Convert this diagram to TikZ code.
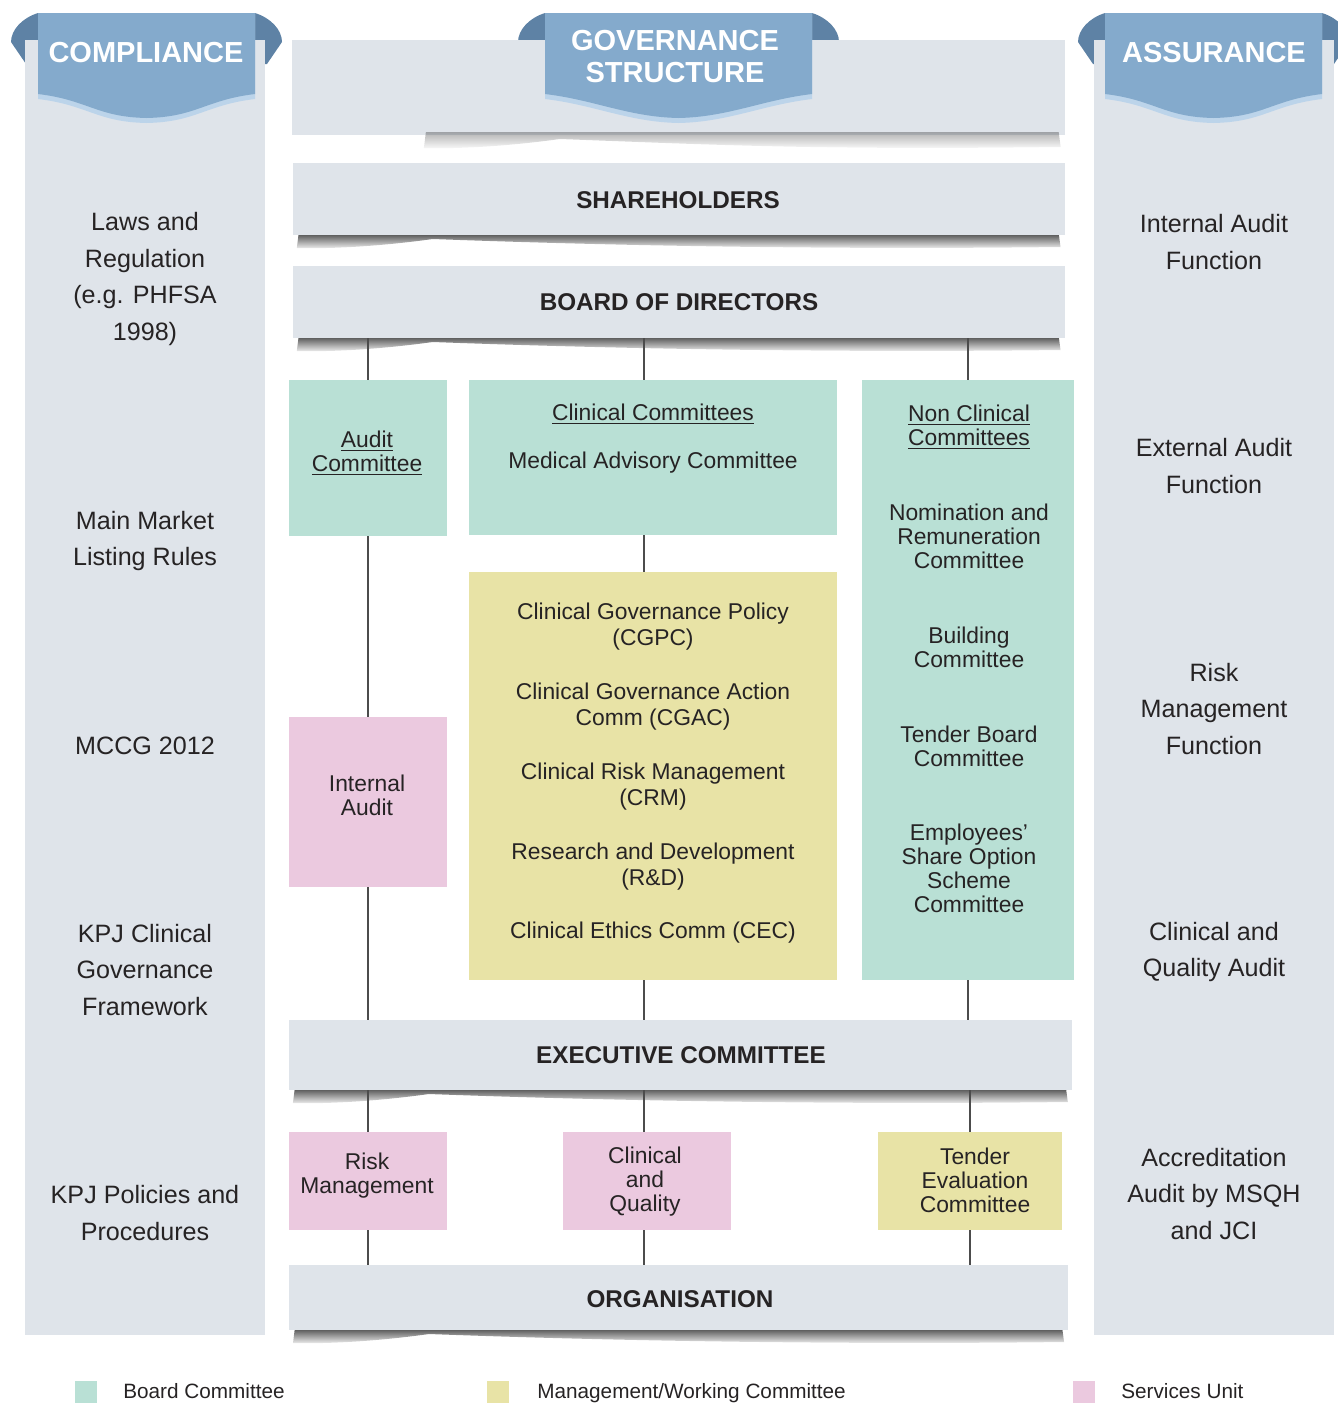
\documentclass[tikz,border=0pt]{standalone}
\usepackage{fontspec}
\setmainfont{Liberation Sans}
\usetikzlibrary{fadings}

\definecolor{bargray}{HTML}{DFE4EA}
\definecolor{boardgreen}{HTML}{B9E0D5}
\definecolor{mgmtyellow}{HTML}{E8E3A6}
\definecolor{servpink}{HTML}{EBC9DF}
\definecolor{ribbon}{HTML}{84AACC}
\definecolor{eardark}{HTML}{5E82A5}
\definecolor{rim}{HTML}{BCD4EA}
\definecolor{ink}{HTML}{262324}

\tikzset{
  block/.style={fill=#1, inner sep=0pt, draw=none},
  side/.style={align=center, inner sep=0pt, text=ink, font=\fontsize{14.3}{21}\selectfont},
  boxtext/.style={align=center, inner sep=0pt, text=ink, font=\fontsize{13}{13.7}\selectfont},
  mgmttext/.style={align=center, inner sep=0pt, text=ink, font=\fontsize{13}{14.8}\selectfont},
  bartext/.style={inner sep=0pt, text=ink, font=\fontsize{13.8}{16}\selectfont\bfseries},
  ribtext/.style={align=center, inner sep=0pt, text=white, font=\fontsize{16.5}{18.2}\selectfont\bfseries},
  legtext/.style={anchor=base west, inner sep=0pt, text=ink, font=\fontsize{11.8}{14}\selectfont},
  link/.style={draw=black!70, line width=0.8pt},
}

\begin{document}
\begin{tikzpicture}[x=0.02cm, y=-0.02cm]
    \useasboundingbox (0,0) rectangle (1338,1403);

    \foreach \xa/\xb in {38/255, 545/812, 1105/1322} {
        \fill[eardark] (\xa,13) .. controls (\xa-16,18) and (\xa-27,30) .. (\xa-27,42) -- (\xa-12,64) -- (\xa,64) -- cycle;
        \fill[eardark] (\xb,13) .. controls (\xb+16,18) and (\xb+27,30) .. (\xb+27,42) -- (\xb+12,64) -- (\xb,64) -- cycle;
    }

    \node[block=bargray, minimum width=4.8cm, minimum height=25.9cm] (compl) at (145,687.5) {};
    \node[block=bargray, minimum width=4.8cm, minimum height=25.9cm] (assur) at (1214,687.5) {};
    \node[block=bargray, minimum width=15.46cm, minimum height=1.9cm] (govband) at (678.5,87.5) {};

    \foreach \xa/\xb/\yb/\op in {420/1065/135/0.4, 293/1065/235/1, 293/1065/338/1, 289/1072/1090/1, 289/1068/1330/1}
        \fill[black!75, opacity=\op, path fading=south] (\xa+6,\yb-3) -- (\xb-6,\yb-3) -- (\xb-4,\yb+12)
            .. controls (\xb-250,\yb+15) and (\xa+300,\yb+10) .. (\xa+140,\yb+4)
            .. controls (\xa+90,\yb+11) and (\xa+40,\yb+14) .. (\xa+4,\yb+13) -- cycle;

    \foreach \xa/\xb/\xc in {38/255/146.5, 545/812/678.5, 1105/1322/1213.5} {
        \fill[rim] (\xa,13) -- (\xb,13) -- (\xb,99) .. controls (\xb-50,105) and (\xc+50,122) .. (\xc,123)
            .. controls (\xc-50,122) and (\xa+50,105) .. (\xa,99) -- cycle;
        \fill[ribbon] (\xa,13) -- (\xb,13) -- (\xb,94) .. controls (\xb-50,100) and (\xc+50,117) .. (\xc,118)
            .. controls (\xc-50,117) and (\xa+50,100) .. (\xa,94) -- cycle;
    }
    \node[ribtext] (complhead) at (146,53) {COMPLIANCE};
    \node[ribtext] (govhead) at (675,57) {GOVERNANCE\\STRUCTURE};
    \node[ribtext] (assurhead) at (1214,53) {ASSURANCE};

    % bars
    \node[block=bargray, minimum width=15.44cm, minimum height=1.44cm] (share) at (679,199) {};
    \node[block=bargray, minimum width=15.44cm, minimum height=1.44cm] (board) at (679,302) {};
    \node[block=bargray, minimum width=15.66cm, minimum height=1.4cm] (exec) at (680.5,1055) {};
    \node[block=bargray, minimum width=15.58cm, minimum height=1.3cm] (org) at (678.5,1297.5) {};
    \node[bartext] (sharetxt) at (678,200) {SHAREHOLDERS};
    \node[bartext] (boardtxt) at (679,302) {BOARD OF DIRECTORS};
    \node[bartext] (exectxt) at (681,1055) {EXECUTIVE COMMITTEE};
    \node[bartext] (orgtxt) at (680,1299) {ORGANISATION};

    % committees
    \node[block=boardgreen, minimum width=3.16cm, minimum height=3.12cm] (audit) at (368,458) {};
    \node[block=boardgreen, minimum width=7.36cm, minimum height=3.1cm] (clin) at (653,457.5) {};
    \node[block=boardgreen, minimum width=4.24cm, minimum height=12cm] (noncl) at (968,680) {};
    \node[block=servpink, minimum width=3.16cm, minimum height=3.4cm] (intaud) at (368,802) {};
    \node[block=mgmtyellow, minimum width=7.36cm, minimum height=8.16cm] (mgmt) at (653,776) {};
    \node[block=servpink, minimum width=3.16cm, minimum height=1.96cm] (riskm) at (368,1181) {};
    \node[block=servpink, minimum width=3.36cm, minimum height=1.96cm] (cq) at (647,1181) {};
    \node[block=mgmtyellow, minimum width=3.68cm, minimum height=1.96cm] (tender) at (970,1181) {};

    \coordinate (mid) at (644,0);
    \draw[link] (audit.north |- board.south) -- (audit.north);
    \draw[link] (board.south -| mid) -- (clin.north -| mid);
    \draw[link] (noncl.north |- board.south) -- (noncl.north);
    \draw[link] (audit.south) -- (intaud.north);
    \draw[link] (intaud.south) -- (intaud.south |- exec.north);
    \draw[link] (clin.south -| mid) -- (mgmt.north -| mid);
    \draw[link] (mgmt.south -| mid) -- (exec.north -| mid);
    \draw[link] (noncl.south) -- (noncl.south |- exec.north);
    \draw[link] (riskm.north |- exec.south) -- (riskm.north);
    \draw[link] (exec.south -| mid) -- (cq.north -| mid);
    \draw[link] (tender.north |- exec.south) -- (tender.north);
    \draw[link] (riskm.south) -- (riskm.south |- org.north);
    \draw[link] (cq.south -| mid) -- (org.north -| mid);
    \draw[link] (tender.south) -- (tender.south |- org.north);

    \node[boxtext] (audittxt) at (367,453) {\underline{Audit}\\\underline{Committee}};
    \node[boxtext] (clintxt) at (653,414) {\underline{Clinical Committees}};
    \node[boxtext] (mac) at (653,463) {Medical Advisory Committee};
    \node[boxtext] (nonctxt) at (969,427) {\underline{Non Clinical}\\\underline{Committees}};
    \node[boxtext] (nomrem) at (969,536) {Nomination and\\Remuneration\\Committee};
    \node[boxtext] (building) at (969,647) {Building\\Committee};
    \node[boxtext] (tboard) at (969,746) {Tender Board\\Committee};
    \node[boxtext] (esos) at (969,868) {Employees’\\Share Option\\Scheme\\Committee};
    \node[mgmttext] (cgpc) at (653,627) {Clinical Governance Policy\\(CGPC)};
    \node[mgmttext] (cgac) at (653,707) {Clinical Governance Action\\Comm (CGAC)};
    \node[mgmttext] (crm) at (653,787) {Clinical Risk Management\\(CRM)};
    \node[mgmttext] (rnd) at (653,867) {Research and Development\\(R\&D)};
    \node[mgmttext] (cec) at (653,933) {Clinical Ethics Comm (CEC)};
    \node[boxtext] (intaudtxt) at (367,795) {Internal\\Audit};
    \node[boxtext] (riskmtxt) at (367,1176) {Risk\\Management};
    \node[boxtext] (cqtxt) at (645,1182) {Clinical\\and\\Quality};
    \node[boxtext] (tendertxt) at (975,1180) {Tender\\Evaluation\\Committee};

    % compliance column
    \node[side] (laws) at (145,279) {Laws and\\Regulation\\(e.g. PHFSA\\1998)};
    \node[side] (listing) at (145,541) {Main Market\\Listing Rules};
    \node[side] (mccg) at (145,746) {MCCG 2012};
    \node[side] (kpjcg) at (145,970) {KPJ Clinical\\Governance\\Framework};
    \node[side] (kpjpol) at (145,1213) {KPJ Policies and\\Procedures};

    % assurance column
    \node[side] (intfn) at (1214,242) {Internal Audit\\Function};
    \node[side] (extfn) at (1214,466) {External Audit\\Function};
    \node[side] (riskfn) at (1214,709) {Risk\\Management\\Function};
    \node[side] (cqaudit) at (1214,952) {Clinical and\\Quality Audit};
    \node[side] (accred) at (1214,1194) {Accreditation\\Audit by MSQH\\and JCI};

    % legend
    \node[block=boardgreen, minimum size=0.44cm] (keyboard) at (86,1392) {};
    \node[block=mgmtyellow, minimum size=0.44cm] (keymgmt) at (498,1392) {};
    \node[block=servpink, minimum size=0.44cm] (keyserv) at (1084,1392) {};
    \node[legtext] (keyboardtxt) at (123,1398) {Board Committee};
    \node[legtext] (keymgmttxt) at (537,1398) {Management/Working Committee};
    \node[legtext] (keyservtxt) at (1121,1398) {Services Unit};
\end{tikzpicture}
\end{document}
